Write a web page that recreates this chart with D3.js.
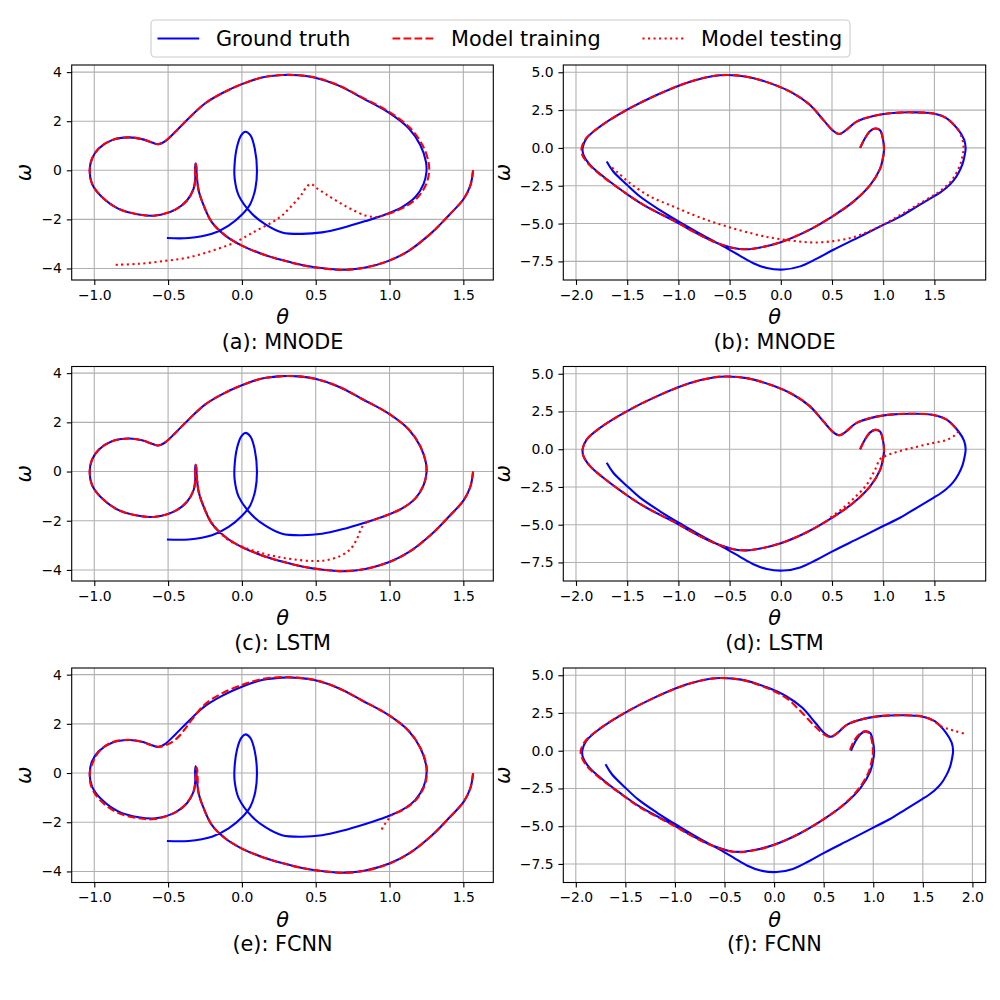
<!DOCTYPE html>
<html><head><meta charset="utf-8">
<script src="https://cdn.jsdelivr.net/npm/d3@7"></script>
<style>body{margin:0;background:#fff}svg{display:block}text{font-family:"DejaVu Sans",sans-serif}</style>
</head><body><div id="chart"></div>
<script>
// ---------- data (theta, omega) ----------
const gtLeft = [[1.566,0],[1.548,-0.61],[1.503,-1.16],[1.401,-1.84],[1.288,-2.53],[1.13,-3.28],[0.994,-3.69],[0.836,-3.96],[0.701,-4.05],[0.565,-4.0],[0.407,-3.86],[0.272,-3.66],[0.136,-3.41],[0.0,-3.07],[-0.112,-2.66],[-0.203,-2.12],[-0.259,-1.43],[-0.293,-0.82],[-0.306,-0.2],[-0.309,0.15],[-0.313,0.27],[-0.317,0.1],[-0.316,-0.34],[-0.327,-0.75],[-0.372,-1.23],[-0.451,-1.6],[-0.586,-1.84],[-0.699,-1.8],[-0.835,-1.57],[-0.948,-1.09],[-1.015,-0.55],[-1.031,0],[-1.015,0.48],[-0.97,0.89],[-0.88,1.23],[-0.767,1.34],[-0.677,1.27],[-0.609,1.13],[-0.568,1.06],[-0.519,1.19],[-0.451,1.57],[-0.36,2.12],[-0.248,2.73],[-0.135,3.14],[0,3.51],[0.136,3.78],[0.272,3.88],[0.385,3.87],[0.497,3.77],[0.656,3.45],[0.814,2.95],[0.995,2.35],[1.13,1.71],[1.209,1.02],[1.247,0.34],[1.25,-0.07],[1.231,-0.55],[1.175,-1.09],[1.085,-1.5],[0.972,-1.8],[0.837,-2.07],[0.678,-2.35],[0.543,-2.53],[0.407,-2.59],[0.272,-2.53],[0.159,-2.2],[0.068,-1.77],[-0.022,-1.02],[-0.049,-0.34],[-0.05,0.2],[-0.033,0.96],[-0.004,1.43],[0.023,1.57],[0.057,1.43],[0.087,0.89],[0.102,0],[0.091,-0.75],[0.057,-1.37],[0.001,-1.8],[-0.09,-2.25],[-0.203,-2.59],[-0.361,-2.76],[-0.508,-2.76]];

const trainA = [[1.566,0],[1.548,-0.61],[1.503,-1.16],[1.401,-1.84],[1.288,-2.53],[1.13,-3.28],[0.994,-3.69],[0.836,-3.96],[0.701,-4.06],[0.565,-4.01],[0.407,-3.87],[0.272,-3.66],[0.136,-3.41],[0.0,-3.07],[-0.112,-2.66],[-0.203,-2.12],[-0.259,-1.43],[-0.293,-0.82],[-0.306,-0.2],[-0.309,0.15],[-0.313,0.27],[-0.317,0.1],[-0.316,-0.34],[-0.327,-0.75],[-0.372,-1.23],[-0.451,-1.6],[-0.586,-1.84],[-0.699,-1.8],[-0.835,-1.57],[-0.948,-1.09],[-1.015,-0.55],[-1.031,0],[-1.015,0.48],[-0.97,0.89],[-0.88,1.23],[-0.767,1.34],[-0.677,1.27],[-0.609,1.13],[-0.568,1.06],[-0.519,1.19],[-0.451,1.57],[-0.36,2.12],[-0.248,2.73],[-0.135,3.14],[0,3.51],[0.136,3.78],[0.272,3.88],[0.385,3.87],[0.497,3.78],[0.656,3.46],[0.814,2.97],[1.0,2.37],[1.14,1.72],[1.223,1.03],[1.264,0.34],[1.268,-0.07],[1.248,-0.57],[1.19,-1.11],[1.095,-1.52],[0.99,-1.78]];
const testA = [[0.99,-1.78],[0.915,-1.9],[0.837,-1.84],[0.746,-1.6],[0.656,-1.3],[0.565,-0.96],[0.5,-0.7],[0.47,-0.56],[0.44,-0.66],[0.407,-0.96],[0.34,-1.43],[0.272,-1.84],[0.204,-2.12],[0.091,-2.48],[-0.045,-2.93],[-0.203,-3.28],[-0.361,-3.55],[-0.519,-3.69],[-0.699,-3.81],[-0.857,-3.85]];

const trainC = [[1.566,0],[1.548,-0.61],[1.503,-1.16],[1.401,-1.84],[1.288,-2.53],[1.13,-3.28],[0.994,-3.69],[0.836,-3.96],[0.701,-4.05],[0.565,-4.0],[0.407,-3.86],[0.272,-3.66],[0.136,-3.41],[0.0,-3.07],[-0.112,-2.66],[-0.203,-2.12],[-0.259,-1.43],[-0.293,-0.82],[-0.306,-0.2],[-0.309,0.15],[-0.313,0.27],[-0.317,0.1],[-0.316,-0.34],[-0.327,-0.75],[-0.372,-1.23],[-0.451,-1.6],[-0.586,-1.84],[-0.699,-1.8],[-0.835,-1.57],[-0.948,-1.09],[-1.015,-0.55],[-1.031,0],[-1.015,0.48],[-0.97,0.89],[-0.88,1.23],[-0.767,1.34],[-0.677,1.27],[-0.609,1.13],[-0.568,1.06],[-0.519,1.19],[-0.451,1.57],[-0.36,2.12],[-0.248,2.73],[-0.135,3.14],[0,3.51],[0.136,3.78],[0.272,3.88],[0.385,3.87],[0.497,3.77],[0.656,3.45],[0.814,2.95],[0.995,2.35],[1.13,1.71],[1.209,1.02],[1.247,0.34],[1.25,-0.07],[1.231,-0.55],[1.175,-1.09],[1.085,-1.5],[0.972,-1.8],[0.845,-2.06]];
const testC = [[0.845,-2.06],[0.811,-2.28],[0.778,-2.76],[0.732,-3.17],[0.665,-3.44],[0.574,-3.6],[0.484,-3.64],[0.349,-3.57],[0.236,-3.46],[0.123,-3.3],[0.01,-3.07],[-0.08,-2.83],[-0.148,-2.49],[-0.205,-2.08],[-0.25,-1.54],[-0.284,-0.99],[-0.302,-0.45],[-0.306,-0.11]];

const trainE = [[1.566,0],[1.548,-0.61],[1.503,-1.16],[1.401,-1.84],[1.288,-2.53],[1.13,-3.28],[0.994,-3.7],[0.836,-3.97],[0.701,-4.06],[0.565,-4.0],[0.407,-3.86],[0.272,-3.66],[0.136,-3.41],[0.0,-3.07],[-0.112,-2.66],[-0.203,-2.12],[-0.259,-1.43],[-0.293,-0.82],[-0.3,-0.2],[-0.303,0.15],[-0.307,0.22],[-0.312,0.05],[-0.314,-0.34],[-0.33,-0.78],[-0.38,-1.27],[-0.46,-1.63],[-0.59,-1.87],[-0.7,-1.84],[-0.84,-1.62],[-0.958,-1.12],[-1.02,-0.55],[-1.03,0],[-1.005,0.5],[-0.96,0.93],[-0.88,1.25],[-0.77,1.35],[-0.68,1.27],[-0.61,1.12],[-0.56,1.07],[-0.49,1.2],[-0.43,1.47],[-0.387,1.78],[-0.335,2.2],[-0.25,2.8],[-0.135,3.24],[0,3.58],[0.136,3.82],[0.272,3.9],[0.385,3.87],[0.497,3.78],[0.656,3.45],[0.814,2.95],[0.995,2.35],[1.13,1.71],[1.209,1.02],[1.25,0.34],[1.253,-0.07],[1.235,-0.55],[1.18,-1.09],[1.09,-1.5],[1.02,-1.68]];
const testE = [[1.02,-1.68],[1.004,-1.79],[0.981,-1.97],[0.958,-2.17],[0.94,-2.38]];

const gtRight = [[0.775,0],[0.822,0.64],[0.871,1.1],[0.92,1.28],[0.969,1.17],[1.0,0.5],[1.008,-0.15],[0.995,-0.75],[0.969,-1.38],[0.872,-2.46],[0.709,-3.55],[0.498,-4.55],[0.254,-5.5],[0.0,-6.23],[-0.2,-6.58],[-0.333,-6.7],[-0.463,-6.62],[-0.659,-6.18],[-0.886,-5.41],[-1.0,-4.97],[-1.342,-3.76],[-1.538,-2.88],[-1.733,-1.89],[-1.863,-1.12],[-1.928,-0.44],[-1.935,0],[-1.896,0.64],[-1.766,1.41],[-1.505,2.51],[-1.212,3.5],[-0.886,4.38],[-0.659,4.75],[-0.528,4.82],[-0.333,4.71],[-0.073,4.2],[0.122,3.61],[0.285,2.84],[0.415,1.85],[0.514,1.12],[0.572,0.92],[0.627,1.12],[0.741,1.74],[0.904,2.11],[1.099,2.31],[1.295,2.35],[1.49,2.27],[1.62,1.96],[1.734,1.19],[1.79,0.55],[1.805,0],[1.795,-0.5],[1.775,-1.05],[1.735,-1.65],[1.682,-2.2],[1.62,-2.62],[1.555,-2.95],[1.49,-3.22],[1.327,-3.88],[1.164,-4.54],[1.0,-5.09],[0.774,-5.86],[0.514,-6.73],[0.351,-7.32],[0.189,-7.83],[0.026,-8.04],[-0.137,-7.94],[-0.268,-7.62],[-0.398,-7.13],[-0.529,-6.62],[-0.724,-5.92],[-0.952,-5.04],[-1.18,-4.11],[-1.375,-3.21],[-1.5,-2.45],[-1.636,-1.56],[-1.7,-0.9]];

const trainB = [[0.775,0],[0.822,0.64],[0.871,1.1],[0.92,1.28],[0.969,1.17],[1.0,0.5],[1.008,-0.15],[0.995,-0.75],[0.969,-1.38],[0.872,-2.46],[0.709,-3.55],[0.498,-4.55],[0.254,-5.5],[0.0,-6.23],[-0.2,-6.58],[-0.333,-6.7],[-0.463,-6.62],[-0.659,-6.18],[-0.886,-5.41],[-1.0,-4.97],[-1.342,-3.76],[-1.538,-2.88],[-1.74,-1.9],[-1.87,-1.12],[-1.94,-0.44],[-1.945,0],[-1.9,0.64],[-1.766,1.41],[-1.505,2.51],[-1.212,3.5],[-0.886,4.38],[-0.659,4.75],[-0.528,4.82],[-0.333,4.71],[-0.073,4.2],[0.122,3.61],[0.285,2.84],[0.415,1.85],[0.514,1.12],[0.572,0.92],[0.627,1.12],[0.741,1.74],[0.904,2.11],[1.099,2.31],[1.295,2.35],[1.49,2.27],[1.62,1.96],[1.734,1.19]];
const testB = [[1.734,1.19],[1.772,0.6],[1.785,0.0],[1.775,-0.5],[1.755,-1.05],[1.715,-1.65],[1.662,-2.2],[1.6,-2.6],[1.535,-2.95],[1.47,-3.22],[1.3,-3.9],[1.15,-4.5],[1.0,-5.08],[0.85,-5.55],[0.7,-5.92],[0.514,-6.16],[0.318,-6.25],[0.123,-6.14],[-0.073,-5.96],[-0.268,-5.68],[-0.529,-5.19],[-0.789,-4.6],[-1.05,-3.87],[-1.277,-3.21],[-1.473,-2.33],[-1.603,-1.56],[-1.65,-1.3]];

const trainD = [[0.775,0],[0.822,0.64],[0.871,1.1],[0.92,1.28],[0.969,1.17],[1.0,0.5],[1.008,-0.15],[0.995,-0.75],[0.969,-1.38],[0.872,-2.46],[0.709,-3.55],[0.498,-4.55],[0.254,-5.5],[0.0,-6.23],[-0.2,-6.58],[-0.333,-6.7],[-0.463,-6.62],[-0.659,-6.18],[-0.886,-5.41],[-1.0,-4.97],[-1.342,-3.76],[-1.538,-2.88],[-1.733,-1.89],[-1.863,-1.12],[-1.928,-0.44],[-1.935,0],[-1.896,0.64],[-1.766,1.41],[-1.505,2.51],[-1.212,3.5],[-0.886,4.38],[-0.659,4.75],[-0.528,4.82],[-0.333,4.71],[-0.073,4.2],[0.122,3.61],[0.285,2.84],[0.415,1.85],[0.514,1.12],[0.572,0.92],[0.627,1.12],[0.741,1.74],[0.904,2.11],[1.099,2.31],[1.295,2.35],[1.49,2.27],[1.62,1.96],[1.734,1.19]];
const testD = [[1.734,1.19],[1.7,0.92],[1.62,0.62],[1.49,0.42],[1.3,0.12],[1.1,-0.25],[1.02,-0.45],[0.969,-0.66],[0.92,-1.36],[0.839,-2.35],[0.741,-3.07],[0.611,-3.88],[0.481,-4.54]];

const trainF = [[0.765,0.05],[0.81,0.7],[0.865,1.12],[0.915,1.28],[0.96,1.15],[0.99,0.5],[0.996,-0.15],[0.982,-0.75],[0.955,-1.38],[0.86,-2.46],[0.7,-3.57],[0.49,-4.58],[0.245,-5.52],[-0.01,-6.26],[-0.2,-6.6],[-0.333,-6.72],[-0.463,-6.64],[-0.659,-6.2],[-0.886,-5.44],[-1.0,-5.0],[-1.342,-3.8],[-1.538,-2.9],[-1.74,-1.9],[-1.875,-1.12],[-1.94,-0.44],[-1.95,0],[-1.905,0.64],[-1.766,1.43],[-1.505,2.52],[-1.212,3.5],[-0.886,4.38],[-0.659,4.75],[-0.528,4.82],[-0.333,4.7],[-0.073,4.15],[0.12,3.5],[0.27,2.6],[0.4,1.7],[0.51,1.05],[0.572,0.9],[0.627,1.12],[0.741,1.74],[0.904,2.11],[1.099,2.31],[1.295,2.35],[1.49,2.27],[1.6,2.0],[1.68,1.62]];
const testF = [[1.68,1.62],[1.75,1.45],[1.83,1.3],[1.93,1.1]];

const leftXTicks = [-1.0,-0.5,0.0,0.5,1.0,1.5];
const leftYTicks = [-4,-2,0,2,4];
const rightXTicks = [-2.0,-1.5,-1.0,-0.5,0.0,0.5,1.0,1.5];
const rightXTicksF = [-2.0,-1.5,-1.0,-0.5,0.0,0.5,1.0,1.5,2.0];
const rightYTicks = [-7.5,-5.0,-2.5,0.0,2.5,5.0];
const panelLabels = ["(a): MNODE","(b): MNODE","(c): LSTM","(d): LSTM","(e): FCNN","(f): FCNN"];
const legendLabels = ["Ground truth","Model training","Model testing"];

// ---------- layout ----------
const W = 1000, H = 1000;
const colX = [[71.7,493.3],[563.3,985.7]];
const rowY = [[65,280],[366.5,581],[668,882.5]];
const BLUE = "#0000ff", RED = "#ff0000";
const LW = 2.08;
const DASH = "7.7,3.3", DOT = "2.08,3.44";

const panels = [
  {row:0,col:0,gt:gtLeft,train:trainA,test:testA,xd:[-1.153,1.703],yd:[-4.47,4.29],xt:leftXTicks,yt:leftYTicks,yf:d3.format("d")},
  {row:0,col:1,gt:gtRight,train:trainB,test:testB,xd:[-2.124,2.001],yd:[-8.73,5.48],xt:rightXTicks,yt:rightYTicks,yf:d3.format(".1f")},
  {row:1,col:0,gt:gtLeft,train:trainC,test:testC,xd:[-1.153,1.703],yd:[-4.45,4.27],xt:leftXTicks,yt:leftYTicks,yf:d3.format("d")},
  {row:1,col:1,gt:gtRight,train:trainD,test:testD,xd:[-2.124,2.001],yd:[-8.73,5.48],xt:rightXTicks,yt:rightYTicks,yf:d3.format(".1f")},
  {row:2,col:0,gt:gtLeft,train:trainE,test:testE,xd:[-1.153,1.703],yd:[-4.45,4.27],xt:leftXTicks,yt:leftYTicks,yf:d3.format("d")},
  {row:2,col:1,gt:gtRight,train:trainF,test:testF,xd:[-2.126,2.134],yd:[-8.73,5.48],xt:rightXTicksF,yt:rightYTicks,yf:d3.format(".1f")}
];

const svg = d3.select("#chart").append("svg").attr("width",W).attr("height",H);
svg.append("rect").attr("width",W).attr("height",H).attr("fill","#fff");

panels.forEach((p,i)=>{
  const [x0,x1] = colX[p.col], [y0,y1] = rowY[p.row];
  const x = d3.scaleLinear().domain(p.xd).range([x0,x1]);
  const y = d3.scaleLinear().domain(p.yd).range([y1,y0]);
  const g = svg.append("g");
  const cid = "clip"+i;
  g.append("clipPath").attr("id",cid).append("rect").attr("x",x0).attr("y",y0).attr("width",x1-x0).attr("height",y1-y0);
  g.selectAll(".gx").data(p.xt).join("line").attr("x1",d=>x(d)).attr("x2",d=>x(d)).attr("y1",y0).attr("y2",y1)
    .attr("stroke","#b0b0b0").attr("stroke-width",1.1);
  g.selectAll(".gy").data(p.yt).join("line").attr("y1",d=>y(d)).attr("y2",d=>y(d)).attr("x1",x0).attr("x2",x1)
    .attr("stroke","#b0b0b0").attr("stroke-width",1.1);
  const line = d3.line().x(d=>x(d[0])).y(d=>y(d[1])).curve(d3.curveCatmullRom.alpha(0.5));
  const lg = g.append("g").attr("clip-path",`url(#${cid})`);
  lg.append("path").attr("d",line(p.gt)).attr("fill","none").attr("stroke",BLUE).attr("stroke-width",LW);
  lg.append("path").attr("d",line(p.train)).attr("fill","none").attr("stroke",RED).attr("stroke-width",LW).attr("stroke-dasharray",DASH);
  lg.append("path").attr("d",line(p.test)).attr("fill","none").attr("stroke",RED).attr("stroke-width",LW).attr("stroke-dasharray",DOT);
  const ax = g.append("g").attr("transform",`translate(0,${y1})`)
    .call(d3.axisBottom(x).tickValues(p.xt).tickFormat(d3.format(".1f")).tickSize(4.9).tickPadding(4.9));
  const ay = g.append("g").attr("transform",`translate(${x0},0)`)
    .call(d3.axisLeft(y).tickValues(p.yt).tickFormat(p.yf).tickSize(4.9).tickPadding(4.9));
  [ax,ay].forEach(a=>{
    a.select(".domain").remove();
    a.selectAll("line").attr("stroke","#000").attr("stroke-width",1.1);
    a.selectAll("text").attr("font-size","13.9px").attr("font-family","DejaVu Sans").attr("fill","#000");
  });
  g.append("rect").attr("x",x0).attr("y",y0).attr("width",x1-x0).attr("height",y1-y0)
    .attr("fill","none").attr("stroke","#000").attr("stroke-width",1.1);
  const cx = (x0+x1)/2;
  g.append("text").attr("x",cx).attr("y",y1+44).attr("text-anchor","middle")
    .attr("font-size","20.8px").attr("font-style","italic").text("θ");
  g.append("text").attr("x",cx).attr("y",y1+68.5).attr("text-anchor","middle")
    .attr("font-size","20.8px").text(panelLabels[i]);
  const lx = p.col===0 ? 31 : 510;
  g.append("text").attr("transform",`translate(${lx},${(y0+y1)/2}) rotate(-90)`).attr("text-anchor","middle")
    .attr("font-size","20.8px").attr("font-style","italic").text("ω");
});

// legend
const leg = svg.append("g");
leg.append("rect").attr("x",151).attr("y",20).attr("width",699).attr("height",37).attr("rx",4)
  .attr("fill","#fff").attr("stroke","#cccccc").attr("stroke-width",1.1);
const legItems = [
  {x:157.5,tx:216,color:BLUE,dash:null},
  {x:392.5,tx:451,color:RED,dash:DASH},
  {x:642.5,tx:701,color:RED,dash:DOT}
];
legItems.forEach((it,k)=>{
  const l = leg.append("line").attr("x1",it.x).attr("x2",it.x+41.7).attr("y1",38.5).attr("y2",38.5)
    .attr("stroke",it.color).attr("stroke-width",LW);
  if(it.dash) l.attr("stroke-dasharray",it.dash);
  leg.append("text").attr("x",it.tx).attr("y",45.8).attr("font-size","20.8px").text(legendLabels[k]);
});
</script></body></html>
